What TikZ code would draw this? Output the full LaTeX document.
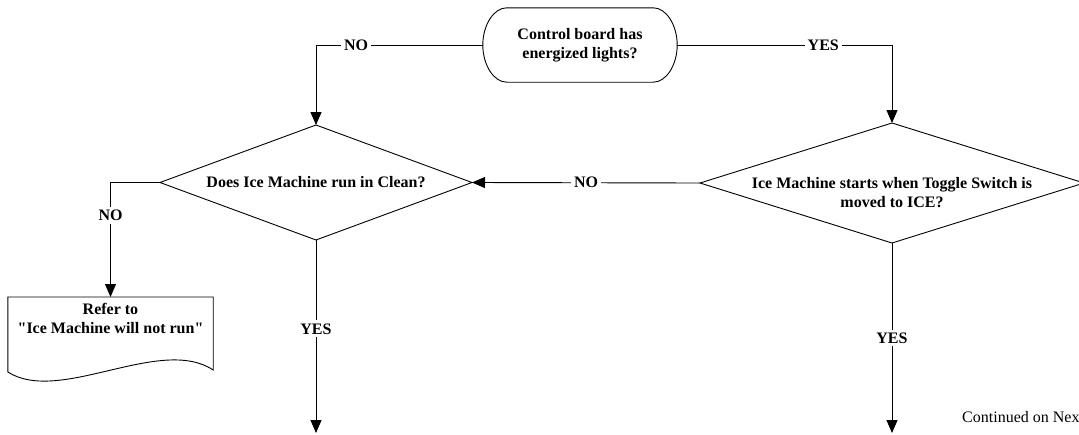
\documentclass[tikz,border=0pt]{standalone}
\usepackage{fontspec}
\setmainfont{Liberation Serif}[Ligatures=TeXOff]
\usetikzlibrary{arrows.meta,shapes.geometric,calc}
\tikzset{
  base/.style={font=\fontsize{16}{19}\selectfont\bfseries, align=center},
  lbl/.style={base, fill=white, inner sep=3pt},
  dia/.style={draw, diamond, inner sep=0pt, outer sep=0pt, line width=0.9pt},
  conn/.style={line width=0.9pt},
  arr/.style={conn, -{Triangle[length=13pt,width=11pt]}},
}
\begin{document}
\begin{tikzpicture}[x=1pt,y=-1pt]
\clip (0,0) rectangle (1079,434);
% terminal
\node[base, minimum width=194pt, minimum height=74pt, inner sep=0pt] (t) at (580,45) {Control board has\\energized lights?};
\draw[line width=0.9pt] ($(t.north west)+(24,0)$) -- ($(t.north east)+(-24,0)$)
  .. controls +(13,0) and +(0,-20) .. (t.east)
  .. controls +(0,20) and +(13,0) .. ($(t.south east)+(-24,0)$)
  -- ($(t.south west)+(24,0)$)
  .. controls +(-13,0) and +(0,20) .. (t.west)
  .. controls +(0,-20) and +(-13,0) .. ($(t.north west)+(24,0)$) -- cycle;
% diamonds
\node[dia, minimum width=312pt, minimum height=115pt] (d1) at (316,182.5) {};
\node[base] at (d1.center) {Does Ice Machine run in Clean?};
\node[dia, minimum width=384pt, minimum height=120pt] (d2) at (892,183) {};
\node[base] (d2t) at ($(d2.center)+(0,10)$) {Ice Machine starts when Toggle Switch is\\moved to ICE?};
% document
\node[base, anchor=north, minimum width=205pt, inner xsep=0pt, inner ysep=6pt] (doc) at (110.5,297) {Refer to\\"Ice Machine will not run"};
\draw[line width=0.9pt] (doc.north west) -- (doc.north east) -- ++(0,73)
  .. controls +(-53,-35) and +(52,33) .. ($(doc.north west)+(0,75)$) -- cycle;
% end coordinates
\coordinate (e1) at (316,433);
\coordinate (e2) at (892,433);
% connectors
\draw[arr] (t.west) -| node[lbl, pos=0.38] {NO} (d1.north);
\draw[arr] (t.east) -| node[lbl, pos=0.34] {YES} (d2.north);
\draw[arr] (d2.west) -- node[lbl, pos=0.5] {NO} (d1.east);
\draw[arr] (d1.west) -| node[lbl, pos=0.645] {NO} (doc.north);
\draw[arr] (d1.south) -- node[lbl, pos=0.46] {YES} (e1);
\draw[arr] (d2.south) -- node[lbl, pos=0.5] {YES} (e2);
\node[font=\fontsize{16}{19}\selectfont, anchor=base west, inner sep=0pt] (cont) at (962,422) {Continued on Next Page};
\end{tikzpicture}
\end{document}
